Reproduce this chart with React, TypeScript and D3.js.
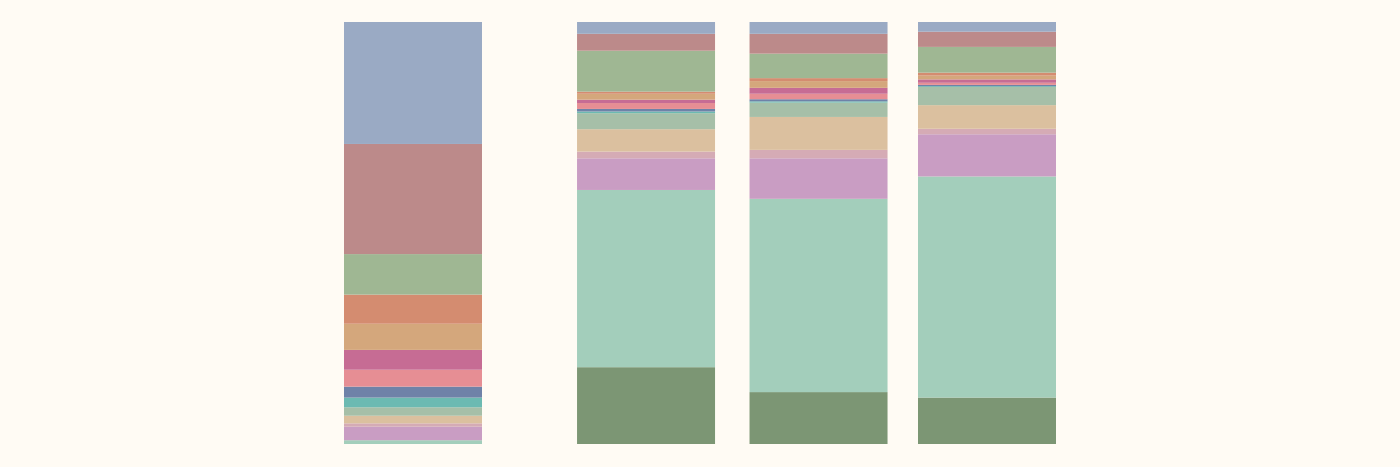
import React from "react";
import * as d3 from "d3";

const groups = ["A", "B", "C", "D"];
const groupPositions = [0, 40.6, 70.65, 100];

// categories, top to bottom as drawn
const categories = [
  "blue", "red", "green", "salmon", "tan", "magenta", "pink", "slate",
  "teal", "greygreen", "beige", "pinkbeige", "lavender", "mint", "darkgreen",
];
const colors = [
  "#9aaac4", "#bc8a8a", "#9fb793", "#d48c70", "#d4a77c", "#c66c94", "#e68e94", "#6f82a8",
  "#6cbab2", "#a6bfa8", "#dbc09f", "#d5abb5", "#c99dc3", "#a3cebb", "#7c9674",
];

// percentage share per category for each group
const valuesA = [28.9, 26.1, 9.6, 6.9, 6.2, 4.7, 4.0, 2.6, 2.3, 2.0, 1.8, 0.8, 3.2, 0.9, 0];
const valuesB = [2.8, 4.0, 9.7, 0.5, 1.4, 0.8, 1.4, 0.6, 0.4, 3.8, 5.3, 1.6, 7.5, 42.0, 18.2];
const valuesC = [2.8, 4.7, 5.8, 0.7, 1.6, 1.4, 1.3, 0.5, 0.3, 3.4, 7.8, 2.0, 9.6, 45.8, 12.3];
const valuesD = [2.3, 3.6, 6.1, 0.7, 0.9, 0.8, 0.5, 0.3, 0.2, 4.3, 5.6, 1.3, 10.0, 52.4, 11.0];

const W = 1400;
const H = 467;
const BAR_W = 138;

export default function App() {
  const series = [valuesA, valuesB, valuesC, valuesD];
  const rows = groups.map((g, i) => {
    const r: Record<string, any> = { group: g, pos: groupPositions[i] };
    categories.forEach((c, j) => (r[c] = series[i][j]));
    return r;
  });
  const keys = [...categories].reverse(); // bottom first
  const stacked = d3.stack<any>().keys(keys).offset(d3.stackOffsetExpand)(rows);
  const color = d3.scaleOrdinal<string, string>().domain(categories).range(colors);
  const x = d3.scaleLinear().domain([0, 100]).range([413, 987]);
  const y = d3.scaleLinear().domain([0, 1]).range([444, 22]);

  return (
    <svg
      width={W}
      height={H}
      style={{ position: "absolute", left: 0, top: 0, background: "#fffbf4" }}
    >
      <rect x={0} y={0} width={W} height={H} fill="#fffbf4" />
      {stacked.map((layer) => (
        <g key={layer.key} fill={color(layer.key)}>
          {layer.map((d, i) => (
            <rect
              key={i}
              x={x(d.data.pos) - BAR_W / 2}
              width={BAR_W}
              y={y(d[1])}
              height={Math.max(0, y(d[0]) - y(d[1]))}
            />
          ))}
        </g>
      ))}
    </svg>
  );
}
